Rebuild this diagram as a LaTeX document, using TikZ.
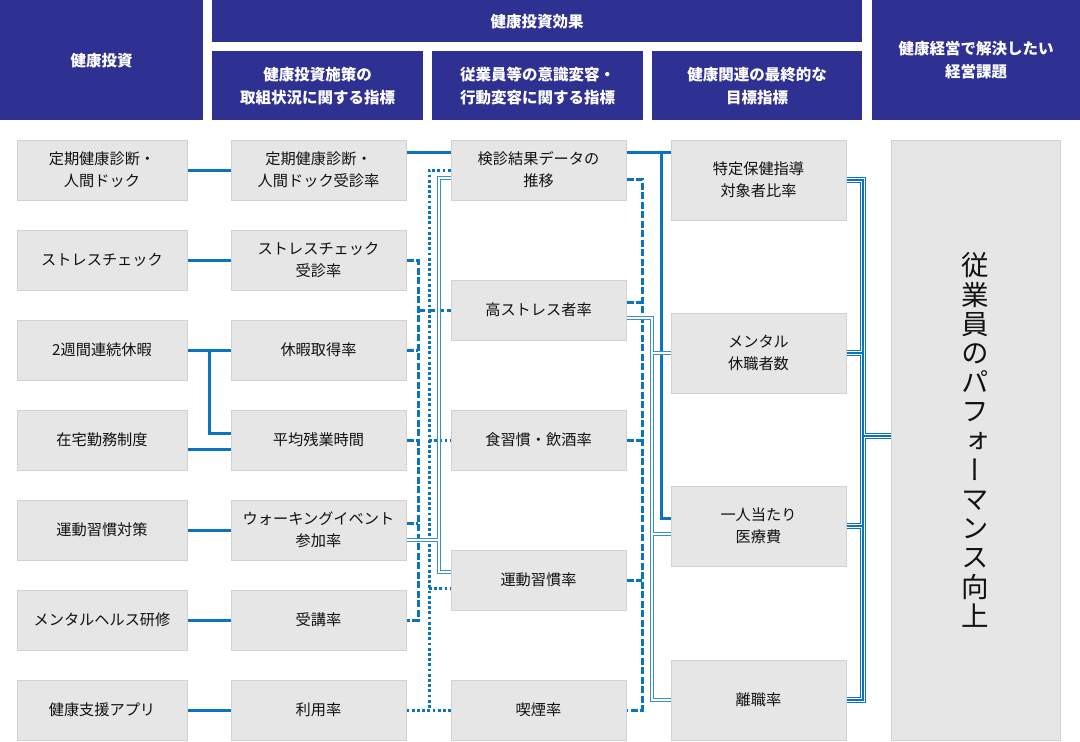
\documentclass[tikz,border=0pt]{standalone}
\usepackage{fontspec}
\setmainfont{Noto Sans CJK JP}
\newfontfamily\vertfont[RawFeature={+vert}]{Noto Sans CJK JP}
\definecolor{hdrblue}{HTML}{2E3192}
\definecolor{boxgray}{HTML}{E6E6E6}
\definecolor{boxline}{HTML}{D2D2D2}
\definecolor{lblue}{HTML}{0B74C0}
\definecolor{dblue}{HTML}{3A8ED0}
\definecolor{txt}{HTML}{111111}
\begin{document}
\begin{tikzpicture}[x=1pt,y=-1pt,
  hdr/.style={fill=hdrblue, text=white, font=\bfseries\fontsize{15.5}{23}\selectfont, align=center, inner sep=0, anchor=north west},
  box/.style={fill=boxgray, draw=boxline, line width=1pt, text=txt, font=\fontsize{15.2}{22}\selectfont, align=center, inner sep=0, minimum height=60},
  c1/.style={box, minimum width=170},
  c2/.style={box, minimum width=175},
  c4/.style={box, minimum width=175, minimum height=80},
  solidl/.style={draw=lblue, line width=3pt},
  dashl/.style={draw=lblue, line width=3pt, dash pattern=on 7pt off 2.5pt},
  dotl/.style={draw=lblue, line width=3pt, dash pattern=on 2.8pt off 2.4pt}
]
\useasboundingbox (0,0) rectangle (1080,742);
\fill[white] (0,0) rectangle (1080,742);

% headers
\node[hdr, minimum width=203, minimum height=120] (h1) at (0,0) {健康投資};
\node[hdr, minimum width=650, minimum height=42] (h2) at (212,0) {健康投資効果};
\node[hdr, minimum width=211, minimum height=69] (h3) at (212,51) {健康投資施策の\\取組状況に関する指標};
\node[hdr, minimum width=211, minimum height=69] (h4) at (432,51) {従業員等の意識変容・\\行動変容に関する指標};
\node[hdr, minimum width=210, minimum height=69] (h5) at (652,51) {健康関連の最終的な\\目標指標};
\node[hdr, minimum width=208, minimum height=120] (h6) at (872,0) {健康経営で解決したい\\経営課題};

% column 1
\node[c1] (b11) at (102,170) {定期健康診断・\\人間ドック};
\node[c1] (b12) at (102,260) {ストレスチェック};
\node[c1] (b13) at (102,350) {2週間連続休暇};
\node[c1] (b14) at (102,440) {在宅勤務制度};
\node[c1] (b15) at (102,530) {運動習慣対策};
\node[c1] (b16) at (102,620) {メンタルヘルス研修};
\node[c1] (b17) at (102,710) {健康支援アプリ};
% column 2
\node[c2] (b21) at (318.5,170) {定期健康診断・\\人間ドック受診率};
\node[c2] (b22) at (318.5,260) {ストレスチェック\\受診率};
\node[c2] (b23) at (318.5,350) {休暇取得率};
\node[c2] (b24) at (318.5,440) {平均残業時間};
\node[c2] (b25) at (318.5,530) {ウォーキングイベント\\参加率};
\node[c2] (b26) at (318.5,620) {受講率};
\node[c2] (b27) at (318.5,710) {利用率};
% column 3
\node[c2] (b31) at (538.5,170) {検診結果データの\\推移};
\node[c2] (b32) at (538.5,310) {高ストレス者率};
\node[c2] (b33) at (538.5,440) {食習慣・飲酒率};
\node[c2] (b34) at (538.5,580) {運動習慣率};
\node[c2] (b35) at (538.5,710) {喫煙率};
% column 4
\node[c4] (b41) at (758.5,180) {特定保健指導\\対象者比率};
\node[c4] (b42) at (758.5,353) {メンタル\\休職者数};
\node[c4] (b43) at (758.5,526) {一人当たり\\医療費};
\node[c4] (b44) at (758.5,700) {離職率};
% column 5
\node[box, minimum width=169, minimum height=600, font=\vertfont\fontsize{27.5}{29.2}\selectfont] (b5) at (975.5,440)
  {従\\業\\員\\の\\パ\\フ\\ォ\\ー\\マ\\ン\\ス\\向\\上};

% bus coordinates
\coordinate (busL) at (209,0);
\coordinate (busA) at (418,0);
\coordinate (busD) at (429,0);
\coordinate (busW) at (439,0);
\coordinate (busE) at (642,0);
\coordinate (busF) at (652,0);
\coordinate (busS) at (661,0);
\coordinate (busT) at (863,0);

% column 1 -> column 2
\draw[solidl] (b11.east) -- (b21.west);
\draw[solidl] (b12.east) -- (b22.west);
\draw[solidl] (b13.east) -- (b23.west);
\coordinate (p433) at ([yshift=7pt]b24.west);
\draw[solidl] (b13.east -| busL) -- (busL |- p433) -- (p433);
\draw[solidl] ([yshift=-9pt]b14.east) -- ([yshift=-9pt]b24.west);
\draw[solidl] (b15.east) -- (b25.west);
\draw[solidl] (b16.east) -- (b26.west);
\draw[solidl] (b17.east) -- (b27.west);

% column 2 -> column 3
\draw[solidl] ([yshift=18pt]b21.east) -- ([yshift=18pt]b21.east -| b31.west);
% dashed bus
\draw[dashl] (b22.east) -- (b22.east -| busA) -- (b26.east -| busA) -- (b26.east);
\draw[dashl] (b23.east) -- (b23.east -| busA);
\draw[dashl] (b24.east) -- (b24.east -| busA);
\draw[dashl] ([yshift=7pt]b25.east) -- ([yshift=7pt]b25.east -| busA);
\draw[dashl] (busA |- b32.west) -- (b32.west);
% dotted bus
\draw[dotl] (b27.east) -- (b35.west);
\draw[dotl] (b31.west) -- (b31.west -| busD) -- (busD |- b35.west);
\draw[dotl] (busD |- b33.west) -- (b33.west);
\coordinate (q588) at ([yshift=-8pt]b34.west);
\draw[dotl] (busD |- q588) -- (q588);
% double bus
\coordinate (w178) at ([yshift=-8pt]b31.west);
\coordinate (w572) at ([yshift=8pt]b34.west);
\coordinate (w540) at ([yshift=-10pt]b25.east);
\def\dblA{(w178) -- (w178 -| busW) -- (busW |- w572) -- (w572) (w540) -- (w540 -| busW)}
\draw[dblue, line width=3.8pt] \dblA;
\draw[white, line width=1.8pt] \dblA;

% column 3 -> column 4
\coordinate (s152) at ([yshift=18pt]b31.east);
\coordinate (s518) at ([yshift=8pt]b43.west);
\draw[solidl] (s152) -- (s152 -| b41.west);
\draw[solidl] (s152 -| busS) -- (busS |- s518) -- (s518);
% dashed bus
\coordinate (e179) at ([yshift=-9pt]b31.east);
\draw[dashl] (e179) -- (e179 -| busE) -- (busE |- b35.east) -- (b35.east);
\draw[dashl] ([yshift=8pt]b32.east) -- ([yshift=8pt]b32.east -| busE);
\draw[dashl] (b33.east) -- (b33.east -| busE);
\draw[dashl] (b34.east) -- (b34.east -| busE);
% double bus
\coordinate (f318) at ([yshift=-8pt]b32.east);
\coordinate (f534) at ([yshift=-8pt]b43.west);
\def\dblB{(f318) -- (f318 -| busF) -- (busF |- b44.west) -- (b44.west) (busF |- b42.west) -- (b42.west) (busF |- f534) -- (f534)}
\draw[dblue, line width=3.8pt] \dblB;
\draw[white, line width=1.8pt] \dblB;

% column 4 -> column 5 triple bus
\coordinate (u436) at ([yshift=4pt]b5.west);
\def\triB{(b41.east) -- (b41.east -| busT) -- (busT |- b44.east) -- (b44.east) (b42.east) -- (b42.east -| busT) (b43.east) -- (b43.east -| busT) (busT |- u436) -- (u436)}
\draw[lblue, line width=6.8pt] \triB;
\draw[white, line width=4.4pt] \triB;
\draw[lblue, line width=1.2pt] \triB;
\end{tikzpicture}
\end{document}
